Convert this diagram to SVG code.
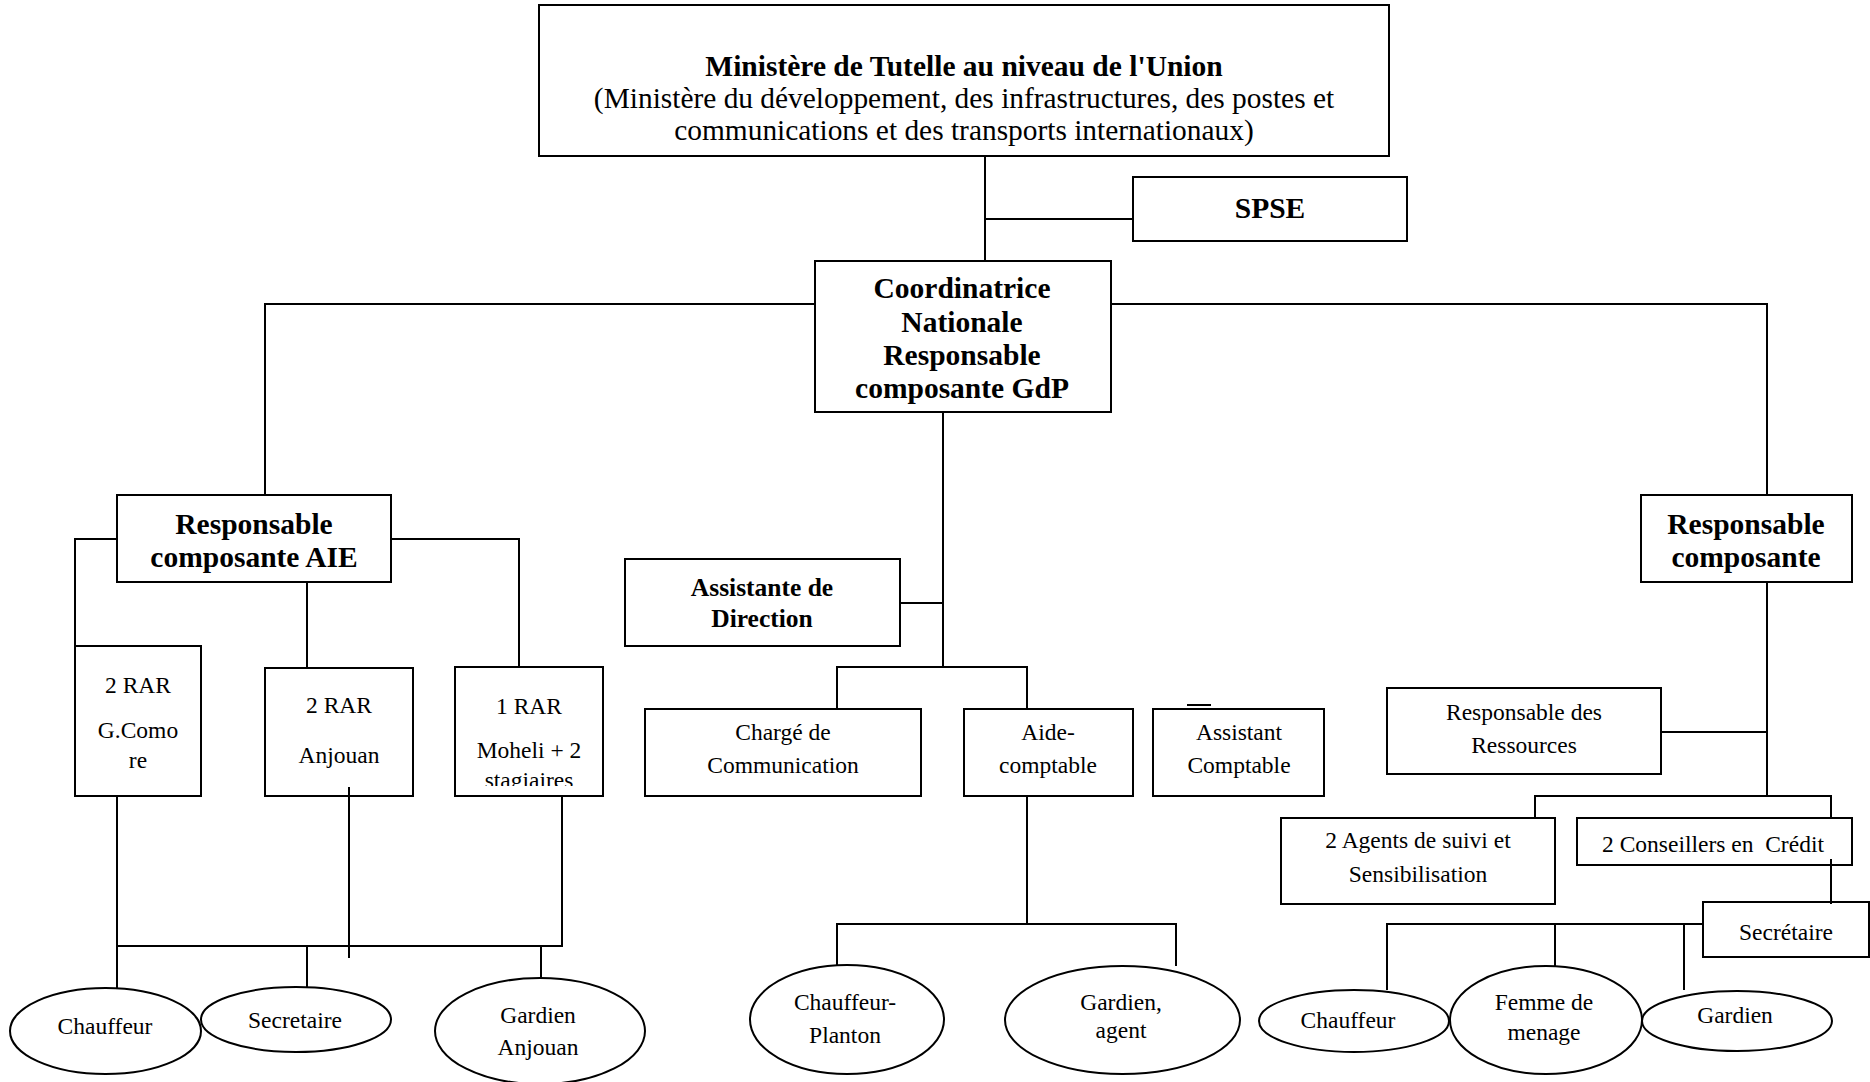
<svg xmlns="http://www.w3.org/2000/svg" width="1870" height="1082" viewBox="0 0 1870 1082">
<style>
.box{fill:#fff;stroke:#000;stroke-width:2}
.ln{fill:none;stroke:#000;stroke-width:2}
text{font-family:"Liberation Serif","Times New Roman",serif;text-anchor:middle;fill:#000}
.b{font-weight:bold;font-size:29.5px}
.b2{font-weight:bold;font-size:25.5px}
.t{font-size:29.4px}
.r{font-size:23.5px}
</style>
<defs>
<clipPath id="clipMoheli"><rect x="456" y="668" width="146" height="118"/></clipPath>
<clipPath id="clipCoord"><rect x="816" y="262" width="294" height="149"/></clipPath>
</defs>
<rect width="1870" height="1082" fill="#fff"/>

<g id="n-ministere">
<rect class="box" x="539" y="5" width="850" height="151"/>
<text class="b" x="964" y="76">Ministère de Tutelle au niveau de l'Union</text>
<text class="t" x="964" y="107.5">(Ministère du développement, des infrastructures, des postes et</text>
<text class="t" x="964" y="140">communications et des transports internationaux)</text>
</g>

<g id="n-spse">
<rect class="box" x="1133" y="177" width="274" height="64"/>
<text class="b" x="1270" y="218">SPSE</text>
</g>

<g id="n-coord">
<rect class="box" x="815" y="261" width="296" height="151"/>
<g clip-path="url(#clipCoord)">
<text class="b" x="962" y="298">Coordinatrice</text>
<text class="b" x="962" y="332">Nationale</text>
<text class="b" x="962" y="365">Responsable</text>
<text class="b" x="962" y="398">composante GdP</text>
</g>
</g>

<g id="n-aie">
<rect class="box" x="117" y="495" width="274" height="87"/>
<text class="b" x="254" y="534">Responsable</text>
<text class="b" x="254" y="567">composante AIE</text>
</g>

<g id="n-rar-gcomore">
<rect class="box" x="75" y="646" width="126" height="150"/>
<text class="r" x="138" y="693">2 RAR</text>
<text class="r" x="138" y="738">G.Como</text>
<text class="r" x="138" y="768">re</text>
</g>

<g id="n-rar-anjouan">
<rect class="box" x="265" y="668" width="148" height="128"/>
<text class="r" x="339" y="713">2 RAR</text>
<text class="r" x="339" y="763">Anjouan</text>
</g>

<g id="n-rar-moheli">
<rect class="box" x="455" y="667" width="148" height="129"/>
<text class="r" x="529" y="714">1 RAR</text>
<text class="r" x="529" y="758">Moheli + 2</text>
<text class="r" x="529" y="788" clip-path="url(#clipMoheli)">stagiaires</text>
</g>

<g id="n-assistante-direction">
<rect class="box" x="625" y="559" width="275" height="87"/>
<text class="b2" x="762" y="596">Assistante de</text>
<text class="b2" x="762" y="627">Direction</text>
</g>

<g id="n-charge-communication">
<rect class="box" x="645" y="709" width="276" height="87"/>
<text class="r" x="783" y="740">Chargé de</text>
<text class="r" x="783" y="773">Communication</text>
</g>

<g id="n-aide-comptable">
<rect class="box" x="964" y="709" width="169" height="87"/>
<text class="r" x="1048" y="740">Aide-</text>
<text class="r" x="1048" y="773">comptable</text>
</g>

<g id="n-assistant-comptable">
<rect class="box" x="1153" y="709" width="171" height="87"/>
<text class="r" x="1239" y="740">Assistant</text>
<text class="r" x="1239" y="773">Comptable</text>
</g>

<g id="n-resp-composante">
<rect class="box" x="1641" y="495" width="211" height="87"/>
<text class="b" x="1746" y="534">Responsable</text>
<text class="b" x="1746" y="567">composante</text>
</g>

<g id="n-resp-ressources">
<rect class="box" x="1387" y="688" width="274" height="86"/>
<text class="r" x="1524" y="720">Responsable des</text>
<text class="r" x="1524" y="753">Ressources</text>
</g>

<g id="n-agents-suivi">
<rect class="box" x="1281" y="818" width="274" height="86"/>
<text class="r" x="1418" y="848">2 Agents de suivi et</text>
<text class="r" x="1418" y="882">Sensibilisation</text>
</g>

<g id="n-conseillers">
<rect class="box" x="1577" y="818" width="275" height="47"/>
<text class="r" x="1713" y="852" xml:space="preserve">2 Conseillers en  Crédit</text>
</g>

<g id="n-secretaire-right">
<rect class="box" x="1703" y="902" width="166" height="55"/>
<text class="r" x="1786" y="940">Secrétaire</text>
</g>

<g id="n-chauffeur-aie">
<ellipse class="box" cx="105.5" cy="1031" rx="95.5" ry="43"/>
<text class="r" x="105" y="1034">Chauffeur</text>
</g>

<g id="n-secretaire-aie">
<ellipse class="box" cx="296" cy="1019.5" rx="95" ry="32.5"/>
<text class="r" x="295" y="1028">Secretaire</text>
</g>

<g id="n-gardien-anjouan">
<ellipse class="box" cx="540" cy="1031" rx="105" ry="53"/>
<text class="r" x="538" y="1023">Gardien</text>
<text class="r" x="538" y="1055">Anjouan</text>
</g>

<g id="n-chauffeur-planton">
<ellipse class="box" cx="847" cy="1019.5" rx="97" ry="54.5"/>
<text class="r" x="845" y="1010">Chauffeur-</text>
<text class="r" x="845" y="1043">Planton</text>
</g>

<g id="n-gardien-agent">
<ellipse class="box" cx="1122.5" cy="1020" rx="117.5" ry="54"/>
<text class="r" x="1121" y="1010">Gardien,</text>
<text class="r" x="1121" y="1038">agent</text>
</g>

<g id="n-chauffeur-right">
<ellipse class="box" cx="1354" cy="1021" rx="95" ry="31"/>
<text class="r" x="1348" y="1028">Chauffeur</text>
</g>

<g id="n-femme-menage">
<ellipse class="box" cx="1546" cy="1020" rx="96" ry="54"/>
<text class="r" x="1544" y="1010">Femme de</text>
<text class="r" x="1544" y="1040">menage</text>
</g>

<g id="n-gardien-right">
<ellipse class="box" cx="1737" cy="1021" rx="95" ry="30"/>
<text class="r" x="1735" y="1023">Gardien</text>
</g>

<g id="connectors" class="ln">
<path class="ln" d="M985,156 V261"/>
<path class="ln" d="M985,219 H1133"/>
<path class="ln" d="M815,304 H265 V495"/>
<path class="ln" d="M1111,304 H1767 V495"/>
<path class="ln" d="M943,412 V667"/>
<path class="ln" d="M900,603 H943"/>
<path class="ln" d="M837,709 V667 H1027 V709"/>
<path class="ln" d="M117,539 H75 V646"/>
<path class="ln" d="M307,582 V668"/>
<path class="ln" d="M391,539 H519 V668"/>
<path class="ln" d="M117,796 V988"/>
<path class="ln" d="M117,946 H562 V796"/>
<path class="ln" d="M307,946 V987"/>
<path class="ln" d="M541,946 V979"/>
<path class="ln" d="M349,787 V958"/>
<path class="ln" d="M1027,796 V924"/>
<path class="ln" d="M837,965 V924 H1176 V966"/>
<path class="ln" d="M1767,582 V796"/>
<path class="ln" d="M1661,732 H1767"/>
<path class="ln" d="M1535,818 V796 H1831 V818"/>
<path class="ln" d="M1831,859 V904"/>
<path class="ln" d="M1703,924 H1387 V990"/>
<path class="ln" d="M1555,924 V966"/>
<path class="ln" d="M1684,924 V990"/>
<path class="ln" d="M1187,705 H1211"/>
</g>
</svg>
